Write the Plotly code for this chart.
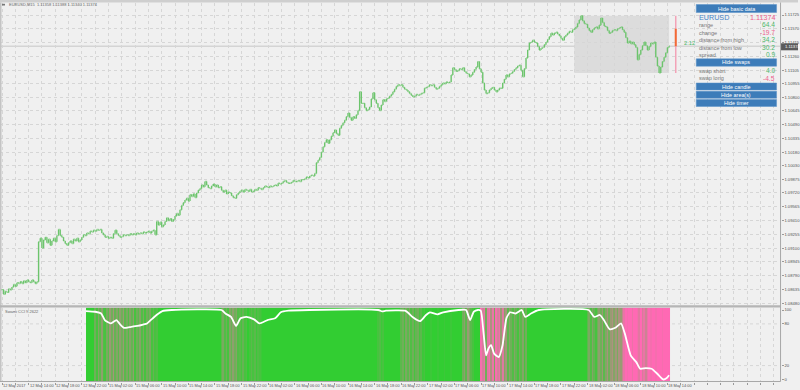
import plotly.graph_objects as go

# ---------------- data ----------------
BASE = 1.08  # closes are stored as pips above this base
closes_pips = [
    63, 58, 61, 60, 64, 63, 66, 69, 67, 71, 70, 72, 70, 73, 71, 74, 72, 71, 74, 72, 70, 72,
    117, 121, 110, 119, 122, 116, 120, 113, 118, 121, 117, 124, 131, 124, 122, 118, 115, 113,
    116, 118, 115, 120, 118, 121, 117, 119, 122, 125, 124,
    127, 126, 129, 128, 130, 129, 131, 130, 131, 127, 125, 122, 123, 121, 122, 121, 126, 130,
    126, 124, 122, 123, 125, 124, 125, 124, 126, 125, 126, 125, 127, 126, 127, 126, 128, 127,
    128, 129, 127, 129, 130, 125,
    140, 136, 139, 134, 136, 140, 144, 141, 143, 140, 142, 146, 149, 147, 153, 158, 161, 164,
    166, 163, 170, 168, 171, 167, 172, 175, 177, 181, 179, 185, 181, 178, 177, 180, 182, 179,
    181, 178, 179, 175, 173, 175, 171, 173, 172, 169, 167, 166, 170, 172,
    174, 175, 173, 176, 175, 174, 176, 173, 174, 176, 175, 178, 177, 176, 178, 180, 179, 178,
    180, 179, 180, 181, 180, 183, 182, 183, 185, 186, 184, 183, 183, 184, 186, 185, 185, 186,
    185, 187, 187, 188, 190, 189, 191, 192, 191, 194,
    206, 209, 212, 218, 224, 229, 232, 228, 232, 236, 240, 243, 239, 237, 245, 248, 251, 254,
    258, 262, 257, 254, 258, 256, 260, 265, 286, 273, 273, 268, 265, 266, 269, 278, 285, 277,
    273, 268, 265, 271, 277, 275, 278, 279, 281, 283, 286, 289, 292, 294, 293, 294,
    291, 289, 288, 286, 284, 282, 280, 281, 283, 282, 283, 284, 285, 290, 291, 292, 294, 293,
    294, 291, 289, 290, 292, 294, 296, 295, 297, 296, 297, 305, 313, 311, 309, 310, 312, 311,
    313, 309, 307, 306, 303, 305, 308, 311, 314, 320, 312, 308, 296, 288, 284, 285, 288, 290,
    291, 288, 286, 288, 290, 290,
    296, 300, 305, 303, 306, 307, 309, 311, 313, 315, 316, 310, 303, 312, 324, 333, 341, 342,
    344, 342, 341, 337, 333, 335, 336, 339, 342, 345, 348, 352, 350, 352, 353, 351, 349, 346,
    344, 348, 350, 352, 354, 353, 356, 357, 359, 363, 367, 371.7, 366, 363,
    362, 358, 355, 353, 356, 358, 359, 357, 361, 369, 364, 360, 359, 355, 352, 353, 355, 356,
    355, 357, 358, 359, 356, 353, 347, 341, 343, 340, 342, 339, 336, 322, 328, 333, 338, 342,
    338, 333, 337, 341, 340, 342, 325, 315, 307.3, 314, 320, 325, 330, 335.8, 337.4,
]

title_ohlc = [1.11358, 1.11388, 1.11340, 1.11374]

time_label_bars = [0, 16, 32, 48, 64, 80, 96, 112, 128, 144, 160, 176, 192, 208, 224,
                   240, 256, 272, 288, 304, 320, 336, 352, 368, 384, 400]
time_labels = ["12 May 2017", "12 May 14:00", "12 May 18:00", "12 May 22:00",
               "15 May 02:00", "15 May 06:00", "15 May 10:00", "15 May 14:00",
               "15 May 18:00", "15 May 22:00", "16 May 02:00", "16 May 06:00",
               "16 May 10:00", "16 May 14:00", "16 May 18:00", "16 May 22:00",
               "17 May 02:00", "17 May 06:00", "17 May 10:00", "17 May 14:00",
               "17 May 18:00", "17 May 22:00", "18 May 02:00", "18 May 06:00",
               "18 May 10:00", "18 May 14:00"]

price_ticks = [1.11725, 1.11570, 1.11415, 1.11260, 1.11105, 1.10955, 1.10800, 1.10645,
               1.10490, 1.10335, 1.10180, 1.10030, 1.09875, 1.09720, 1.09565, 1.09410,
               1.09255, 1.09100, 1.08945, 1.08790, 1.08635, 1.08480]

cci_ticks = [0, 20, 80, 100]

# Swami CCI white line (bar index, value)
cci_bars = [50.4, 56, 59.6, 61.8, 65.3, 68.8, 71.1, 73.4, 76.8, 81.4, 84.8, 87.2, 89.4, 90.6,
            92.9, 96.4, 102, 132, 134.3, 137.7, 140.7, 143.4, 146.9, 151.5, 154.8, 159.6,
            164.2, 167.6, 172.2, 184.8, 226.2, 228.5, 230.8, 242.3, 244.6, 246.8, 251.4,
            254.9, 257.2, 261.8, 265.2, 274.4, 279, 280.2, 281.4, 283.6, 286, 287.8, 289.4,
            291, 292.4, 294, 295.8, 298.6, 300.9, 303.2, 305.4, 308.9, 312.4, 314.6, 318,
            322.7, 352.6, 356, 359.4, 361.8, 365.2, 368.7, 372.1, 374.4, 377.9, 381.3, 383.6,
            387, 390.5, 393.9, 397.4, 399.6, 401]
cci_vals = [98.5, 97.5, 95, 85.5, 80.7, 85.5, 79, 74.3, 75.4, 77, 79, 80.7, 85.5, 88,
            92.8, 98.5, 100, 100, 95, 90, 77, 88, 90, 86.5, 80.7, 85.5,
            88, 96.7, 99, 100, 100, 98, 99, 99, 95, 90, 84,
            92.8, 96.7, 93.8, 96.7, 100, 100, 92.8, 85.5, 97.5, 100, 99, 68.6,
            34.8, 44.5, 49.3, 37.2, 32.3, 49.3, 88, 96.7, 95, 100, 90, 95,
            100, 100, 90, 92.8, 85.5, 72.5, 74.4, 80.7, 66, 34.8, 25, 15.5,
            16.4, 15.5, 8.3, 0, 2, 6]

# Swami heat columns: pink share per bar (0 = green, 1 = pink); bars outside runs are green
heat_first, heat_last = 51, 401
heat_run_start = [56, 132, 226, 240, 258, 262, 266, 270, 277, 288, 302, 352, 374]
heat_run_vals = [
    [0.3, 0.1, 0.4, 0.2, 0.45, 0.15, 0.1, 0.35, 0.2, 0.5, 0.3, 0.55, 0.25, 0.4, 0.2, 0.45,
     0.3, 0.5, 0.2, 0.35, 0.15, 0.4, 0.25, 0.45, 0.1, 0.3, 0.2, 0.4, 0.15, 0.35, 0.1, 0.3,
     0.2, 0.35, 0.1, 0.25, 0.1, 0.15],
    [0.2, 0.35, 0.15, 0.3, 0.1, 0.4, 0.25, 0.45, 0.3, 0.4, 0.15, 0.2, 0.1, 0.25, 0.1, 0.15,
     0.0, 0.1, 0.2, 0.1, 0.2, 0.05, 0.15, 0.1, 0.05],
    [0.1, 0.15, 0.05, 0.1],
    [0.2, 0.3, 0.1, 0.35, 0.2, 0.4, 0.15, 0.3, 0.1, 0.25, 0.3, 0.1, 0.2, 0.05, 0.1],
    [0.05], [0.05], [0.05], [0.05],
    [0.3, 0.45, 0.2, 0.5, 0.35, 0.2, 0.1],
    [0.95, 0.8, 0.9, 0.3, 0.85, 0.95, 0.6, 0.9, 0.35, 0.95, 0.8, 0.9, 0.5, 0.85],
    [0.4, 0.55, 0.2, 0.45, 0.3, 0.15, 0.4, 0.25, 0.1, 0.35, 0.2, 0.4, 0.1, 0.3],
    [0.2, 0.35, 0.15, 0.4, 0.25, 0.1, 0.3, 0.45, 0.3, 0.5, 0.2, 0.4, 0.55, 0.3, 0.5, 0.6,
     0.4, 0.55, 0.35, 0.6, 0.5, 0.7],
    [0.9, 1, 0.95, 1, 1, 0.9, 1, 1, 0.95, 0.85, 1, 0.8, 0.9, 0.75, 0.9, 1, 0.95, 1, 1, 0.95,
     1, 1, 1, 0.95, 1, 1, 1, 1],
]

# info panel
symbol, last_price = "EURUSD", "1.11374"
info_labels = ["range", "change", "distance from high", "distance from low", "spread"]
info_values = ["64.4", "-19.7", "34.2", "30.2", "0.9"]
swap_labels = ["swap short", "swap long"]
swap_values = ["4.0", "-4.5"]
buttons = ["Hide basic data", "Hide swaps", "Hide candle", "Hide area(s)", "Hide timer"]
timer_text = "2:12"

range_high, range_low = 1.11717, 1.11073
candle_open, candle_close = 1.11571, 1.11374
box_start_bar = 344
candle_bar = 405

# ---------------- build ----------------
n = len(closes_pips)
bars = list(range(n))
closes = [round(BASE + v / 10000, 5) for v in closes_pips]
opens = [closes[0]] + closes[:-1]
highs = [max(o, c) for o, c in zip(opens, closes)]
lows = [min(o, c) for o, c in zip(opens, closes)]

heat_bars = list(range(heat_first, heat_last + 1))
heat_row = [0.0] * len(heat_bars)
for s, vals in zip(heat_run_start, heat_run_vals):
    for k, v in enumerate(vals):
        heat_row[s + k - heat_first] = v

W, H = 800, 390
def PX(x):
    return x / W
def PY(y):
    return 1 - y / H

FONT = "Liberation Sans"
GRID = "#d6d6d6"
XR = [-1.2, 468.0]
grid_bars = list(range(0, 468, 8))

fig = go.Figure()
fig.add_trace(go.Heatmap(
    x=[b - 0.5 for b in heat_bars] + [heat_bars[-1] + 0.5], y=[-2.9, 103.6],
    z=[heat_row], zmin=0, zmax=1, showscale=False, zsmooth=False,
    colorscale=[[0, "#32cd32"], [1, "#ff69b4"]], xaxis="x2", yaxis="y2", hoverinfo="skip"))
fig.add_trace(go.Scatter(
    x=cci_bars, y=cci_vals, mode="lines", xaxis="x2", yaxis="y2",
    line=dict(color="white", width=1.8, shape="spline", smoothing=0.5), hoverinfo="skip"))
fig.add_trace(go.Ohlc(
    x=bars, open=opens, high=highs, low=lows, close=closes, xaxis="x", yaxis="y",
    increasing=dict(line=dict(color="#6cc46c", width=1.4)),
    decreasing=dict(line=dict(color="#6cc46c", width=1.4)),
    tickwidth=0.4, hoverinfo="skip"))

shapes = []
shapes.append(dict(type="rect", xref="x", yref="y", x0=box_start_bar, x1=bars[-1],
                   y0=range_low, y1=range_high, fillcolor="#dcdcdc", line=dict(width=0),
                   layer="below"))
shapes.append(dict(type="line", xref="paper", yref="y", x0=0, x1=PX(782),
                   y0=closes[-1], y1=closes[-1], line=dict(color="#c6c6c6", width=1),
                   layer="below"))
shapes.append(dict(type="line", xref="x", yref="y", x0=candle_bar, x1=candle_bar,
                   y0=range_low, y1=range_high, line=dict(color="#f3a3b8", width=1.5)))
shapes.append(dict(type="rect", xref="x", yref="y", x0=candle_bar - 0.6, x1=candle_bar + 0.6,
                   y0=candle_close, y1=candle_open, fillcolor="#f26a35", line=dict(width=0)))
for lv in (20, 80):
    shapes.append(dict(type="line", xref="x2", yref="y2", x0=XR[0], x1=XR[1], y0=lv, y1=lv,
                       line=dict(color=GRID, width=1, dash="dot"), layer="below"))
shapes += [
    dict(type="rect", xref="paper", yref="paper", x0=0, x1=1, y0=PY(2.5), y1=1,
         fillcolor="#cfcfcf", line=dict(width=0)),
    dict(type="rect", xref="paper", yref="paper", x0=0, x1=PX(1.5), y0=PY(381), y1=PY(2.5),
         fillcolor="#c4c4c4", line=dict(width=0)),
    dict(type="rect", xref="paper", yref="paper", x0=0, x1=PX(782.5), y0=PY(307.5), y1=PY(305.2),
         fillcolor="#b5b5b5", line=dict(width=0)),
    dict(type="line", xref="paper", yref="paper", x0=PX(782.5), x1=PX(782.5), y0=PY(381.5), y1=PY(2.5),
         line=dict(color="#a8a8a8", width=1)),
    dict(type="line", xref="paper", yref="paper", x0=0, x1=PX(782.5), y0=PY(381.5), y1=PY(381.5),
         line=dict(color="#a8a8a8", width=1)),
]
shapes.append(dict(type="rect", xref="paper", yref="paper", x0=PX(2), x1=PX(5), y0=PY(5.5), y1=PY(3.8),
                   fillcolor="#777", line=dict(width=0)))

ann = []
def txt(x, y, s, size, color, anchor="left", **kw):
    ann.append(dict(x=PX(x), y=PY(y), xref="paper", yref="paper", text=s, showarrow=False,
                    xanchor=anchor, yanchor="middle", font=dict(size=size, color=color, family=FONT), **kw))

txt(7, 4.7, "%s,M15  %s" % (symbol, " ".join("%.5f" % v for v in title_ohlc)), 4, "#666")
txt(3, 311.5, "Swami CCI 9.2622", 4, "#666")

for b, s in zip(time_label_bars, time_labels):
    ann.append(dict(x=b, y=PY(385.3), xref="x2", yref="paper", text=s, showarrow=False,
                    xanchor="left", yanchor="middle", xshift=-1,
                    font=dict(size=3.9, color="#555", family=FONT)))

shapes.append(dict(type="rect", xref="paper", yref="paper", x0=PX(783), x1=PX(800),
                   y0=PY(50.3), y1=PY(43.3), fillcolor="#5b5b5b", line=dict(width=0)))
txt(785, 46.8, last_price, 4.2, "white")

txt(683.5, 43, timer_text, 5.7, "#4db86a")

BTN = "#3d7cb9"
GREEN, PINK, GREY = "#4db86a", "#ee5f8e", "#777777"
btn_y = [(4.5, 12.5), (58.8, 66.2), (83, 90), (91.3, 98.3), (99.5, 106.5)]
for (y0, y1), label in zip(btn_y, buttons):
    shapes.append(dict(type="rect", xref="paper", yref="paper", x0=PX(698), x1=PX(778.5),
                       y0=PY(y1), y1=PY(y0), fillcolor=BTN, line=dict(color="#5a93c9", width=0.5)))
    txt(738.2, (y0 + y1) / 2, label, 5.4, "white", anchor="center")

txt(698.5, 17.4, symbol, 7.2, "#4a86c8")
txt(778.5, 17.4, last_price, 7.2, PINK, anchor="right")
row_y = [25, 32.5, 40, 47.5, 54.8]
for y, lab, val in zip(row_y, info_labels, info_values):
    txt(698.5, y, lab, 5.5, GREY)
    txt(778.5, y, val, 6.6, PINK if val.startswith("-") else GREEN, anchor="right")
for y, lab, val in zip([70.8, 78.3], swap_labels, swap_values):
    txt(698.5, y, lab, 5.5, GREY)
    txt(778.5, y, val, 6.6, PINK if val.startswith("-") else GREEN, anchor="right")

axis_font = dict(size=4.2, color="#555", family=FONT)
fig.update_layout(
    width=W, height=H, margin=dict(l=0, r=0, t=0, b=0),
    paper_bgcolor="#f0f0f0", plot_bgcolor="rgba(0,0,0,0)", showlegend=False,
    xaxis=dict(domain=[0, PX(782.5)], range=XR, anchor="y", showticklabels=False,
               tickvals=grid_bars, showgrid=True, gridcolor=GRID, griddash="dot", gridwidth=1,
               zeroline=False, ticks="", rangeslider=dict(visible=False), showline=False),
    yaxis=dict(domain=[PY(305.2), PY(2.5)], range=[1.084559, 1.118659], side="right", anchor="x",
               tickvals=price_ticks, ticktext=["%.5f" % p for p in price_ticks], tickfont=axis_font,
               ticks="outside", ticklen=2, tickcolor="#999", showgrid=True, gridcolor=GRID,
               griddash="dot", zeroline=False),
    xaxis2=dict(domain=[0, PX(782.5)], range=XR, anchor="y2", showticklabels=False,
                tickvals=grid_bars, ticks="outside", ticklen=2, tickcolor="#999",
                showgrid=True, gridcolor=GRID, griddash="dot", zeroline=False),
    yaxis2=dict(domain=[PY(381.5), PY(307.5)], range=[-2.9, 103.6], side="right", anchor="x2",
                tickvals=cci_ticks, ticktext=[str(v) for v in cci_ticks], tickfont=axis_font,
                ticks="outside", ticklen=2, tickcolor="#999", showgrid=False, zeroline=False),
    shapes=shapes, annotations=ann,
)
fig.write_html("out.html")
